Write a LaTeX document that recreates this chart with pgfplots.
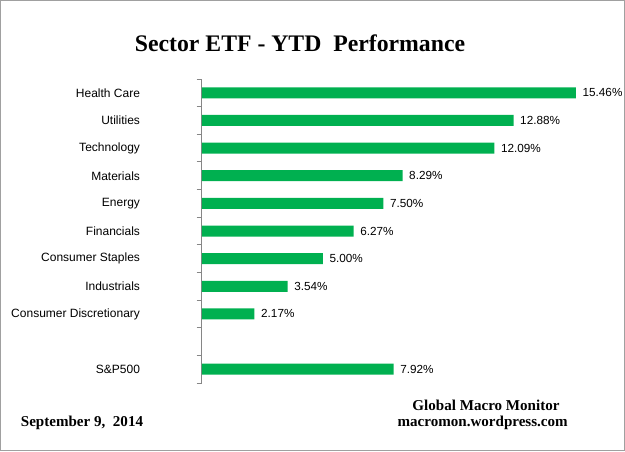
\documentclass[border=0pt]{standalone}
\usepackage{fontspec}
\setmainfont{Liberation Serif}
\newfontfamily\labelfont{Liberation Sans}
\usepackage{pgfplots}
\pgfplotsset{compat=1.18}
\definecolor{barGreen}{HTML}{00B050}
\definecolor{axisGray}{HTML}{868686}
\definecolor{frameGray}{HTML}{A0A0A0}

\begin{document}
\begin{tikzpicture}
% fixed page size: 625 x 451 px, 1px = 0.75pt
\useasboundingbox (0,0) rectangle (468.75pt,-338.25pt);
\draw[frameGray, line width=0.75pt] (0.375pt,-0.375pt) rectangle (468.375pt,-337.875pt);

\begin{axis}[
  at={(151.5pt,-287.25pt)}, anchor=south west,
  xbar, scale only axis,
  width=290.25pt, height=228pt,
  xmin=0, xmax=16, ymin=-0.5, ymax=10.5,
  axis x line=none, axis y line=left,
  y axis line style={-, draw=axisGray, line width=0.75pt},
  % boundary ticks between categories
  ytick={-0.5,0.5,...,10.5},
  yticklabels={},
  major tick length=4pt, tick align=outside,
  major tick style={draw=axisGray, line width=0.75pt},
  % category names at the centres
  extra y ticks={0,...,10},
  extra y tick labels={S\&P500,,Consumer Discretionary,Industrials,Consumer Staples,Financials,Energy,Materials,Technology,Utilities,Health Care},
  extra y tick style={major tick length=0pt,
    yticklabel style={font=\labelfont\fontsize{9}{10}\selectfont, anchor=east, xshift=-43pt}},
  bar width=8.25pt,
  /pgf/number format/assume math mode=true,
  nodes near coords={\pgfmathprintnumber[fixed,fixed zerofill,precision=2]{\pgfplotspointmeta}\%},
  nodes near coords style={font=\labelfont\fontsize{8.8}{10}\selectfont, anchor=west, text=black, xshift=1.5pt},
]
\addplot[fill=barGreen, draw=none] coordinates {
  (15.46,10) % Health Care
  (12.88,9)  % Utilities
  (12.09,8)  % Technology
  (8.29,7)   % Materials
  (7.50,6)   % Energy
  (6.27,5)   % Financials
  (5.00,4)   % Consumer Staples
  (3.54,3)   % Industrials
  (2.17,2)   % Consumer Discretionary
  (7.92,0)   % S&P500
};
\end{axis}

\node[font=\bfseries\fontsize{17.8}{20}\selectfont] at (225pt,-32.25pt) {Sector ETF - YTD\ \ Performance};
\node[font=\bfseries\fontsize{11.3}{13}\selectfont] at (61.5pt,-317pt) {September 9,\ \ 2014};
\node[font=\bfseries\fontsize{11.3}{13}\selectfont] at (364.5pt,-304.3pt) {Global Macro Monitor};
\node[font=\bfseries\fontsize{11.3}{13}\selectfont] at (362pt,-317pt) {macromon.wordpress.com};
\end{tikzpicture}
\end{document}
